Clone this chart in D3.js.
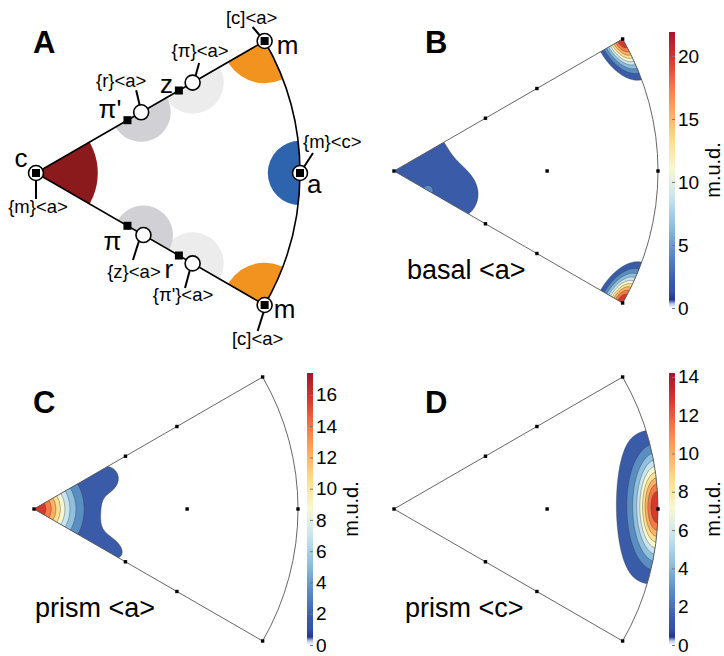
<!DOCTYPE html>
<html><head><meta charset="utf-8">
<script src="https://cdn.jsdelivr.net/npm/d3@7"></script>
<style>
body{margin:0;background:#fff}
svg{display:block}
text{font-family:"Liberation Sans",Arial,Helvetica,sans-serif;fill:#000}
</style>
</head><body>
<svg id="fig" width="724" height="656"></svg>
<script>
// ================= DATA =================
// Directions are given as (rho: fraction of sector radius from c, theta: degrees from the c–a axis, + = toward upper m)
const poleNames   = ["c", "a", "m", "m"];
const poleRho     = [0, 1, 1, 1];
const poleTheta   = [0, 0, 30, -30];

const planeNames  = ["π'", "z", "π", "r"];
const planeRho    = [0.40, 0.625, 0.40, 0.625];
const planeTheta  = [30, 30, -30, -30];

const slipLabels  = ["{r}<a>", "{π}<a>", "{z}<a>", "{π'}<a>"];
const slipRho     = [0.46, 0.685, 0.47, 0.685];
const slipTheta   = [30, 30, -30, -30];

const poleSlipLabels = ["{m}<a>", "{m}<c>", "[c]<a>", "[c]<a>"];

// Schematic activity zones in panel A: [rho, theta, angular radius (fraction of R), zone id]
const zonesA = [
  [0,     0,   0.234, "basal"],
  [1,     30,  0.160, "prismA"],
  [1,    -30,  0.160, "prismA"],
  [1,     0,   0.122, "prismC"],
  [0.685, 30,  0.118, "minor"],
  [0.685,-30,  0.118, "minor"],
  [0.46,  30,  0.112, "rhomb"],
  [0.47, -30,  0.112, "rhomb"]
];

// Reference markers in the density sectors
const markRho   = [0, 1, 1, 1, 0.58, 0.40, 0.625, 0.40, 0.625];
const markTheta = [0, 30, -30, 0, 0, 30, 30, -30, -30];

// Density components: [rho, theta, m.u.d., radial spread, tangential spread]
const peaksB = [
  [1.0,   30,   21.9, 0.045, 0.080],
  [1.0,  -30,   21.9, 0.045, 0.080],
  [0.0,    0,    3.1, 0.260, 0.260],
  [0.27, -21.5,  1.3, 0.070, 0.070],
  [0.148, -30,   3.0, 0.016, 0.016]
];
const peaksC = [
  [0.0,     0,   15.1, 0.0913, 0.0913],
  [0.0,     0,    2.3, 0.250,  0.250],
  [0.3124, 22.8,  1.0, 0.050,  0.050],
  [0.342, -27.7,  1.1, 0.070,  0.045]
];
const peaksD = [
  [1.0,   0.4,  13.6, 0.050, 0.130],
  [0.9,   0.5,   2.1, 0.060, 0.240]
];

const maxB = 21.9, maxC = 17.4, maxD = 14.2;
const ticksB = [0, 5, 10, 15, 20];
const ticksC = [0, 2, 4, 6, 8, 10, 12, 14, 16];
const ticksD = [0, 2, 4, 6, 8, 10, 12, 14];
const titles = ["basal <a>", "prism <a>", "prism <c>"];
const panelLetters = ["A", "B", "C", "D"];

// ================= STYLE / LAYOUT =================
const R = 264;
const apexA = {x:36,  y:173};
const apexB = {x:394, y:171};
const apexC = {x:34,  y:509};
const apexD = {x:394, y:509};
const zoneColor = {basal:"#8b1a1c", prismA:"#f3931f", prismC:"#2e63ad", rhomb:"#d0d0d5", minor:"#ececec"};
const cmapStops  = [0, 0.015, 0.03, 0.06, 0.1, 0.2, 0.3, 0.4, 0.5, 0.6, 0.7, 0.8, 0.9, 1.0];
const cmapColors = ["#ffffff","#b8cbe6","#24348c","#3353a3","#3a5ca8","#5a8ec2","#8fc0dd","#c8e4ee","#f6f8d2","#fee08f","#fdb062","#f57a47","#d63a2c","#a3162b"];
const cmap = d3.scaleLinear().domain(cmapStops).range(cmapColors).interpolate(d3.interpolateRgb).clamp(true);

const rScale = d3.scaleLinear().domain([0,1]).range([0,R]);
const rad = d => d*Math.PI/180;
function proj(apex, rho, theta){
  const r = rScale(rho);
  return [apex.x + r*Math.cos(rad(theta)), apex.y - r*Math.sin(rad(theta))];
}
function sectorPath(apex){
  const t = proj(apex,1,30), b = proj(apex,1,-30);
  return `M${apex.x},${apex.y}L${t[0]},${t[1]}A${R},${R} 0 0 1 ${b[0]},${b[1]}Z`;
}

const svg = d3.select("#fig");
const defs = svg.append("defs");

// ================= PANEL A =================
(function(){
  const g = svg.append("g");
  defs.append("clipPath").attr("id","clipA").append("path").attr("d", sectorPath(apexA));
  const zg = g.append("g").attr("clip-path","url(#clipA)");
  const order = ["basal","prismA","prismC","minor","rhomb"];
  const zs = zonesA.slice().sort((a,b)=>order.indexOf(a[3])-order.indexOf(b[3]));
  zg.selectAll("circle").data(zs).join("circle")
    .attr("cx", d=>proj(apexA,d[0],d[1])[0])
    .attr("cy", d=>proj(apexA,d[0],d[1])[1])
    .attr("r", d=>rScale(d[2]))
    .attr("fill", d=>zoneColor[d[3]]);
  g.append("path").attr("d", sectorPath(apexA)).attr("fill","none").attr("stroke","#000").attr("stroke-width",1.6);

  const leader = (p, o1, o2) => g.append("line")
      .attr("x1",p[0]+o1[0]).attr("y1",p[1]+o1[1]).attr("x2",p[0]+o2[0]).attr("y2",p[1]+o2[1])
      .attr("stroke","#000").attr("stroke-width",2);
  const txt = (x,y,s,size,anchor) => g.append("text").attr("x",x).attr("y",y).text(s)
      .attr("font-size",size).attr("text-anchor",anchor||"middle");

  const poleNameOff  = [[-15,-6],[7,20],[12,13],[9,13]];
  const poleSlipOff  = [[2,40],[3,-25],[-13,-17],[-7,40]];
  const poleSlipAnchor = ["middle","start","middle","middle"];
  const poleLeader   = [[[0,7],[0,26]],[[13,-20],[2,-3]],[[-12,-14],[-1,-1]],[[-1,7],[-7,26]]];
  poleNames.forEach((n,i)=>{
    const p = proj(apexA, poleRho[i], poleTheta[i]);
    leader(p, poleLeader[i][0], poleLeader[i][1]);
    txt(p[0]+poleNameOff[i][0], p[1]+poleNameOff[i][1], n, 26, i===0?"middle":"start");
    txt(p[0]+poleSlipOff[i][0], p[1]+poleSlipOff[i][1], poleSlipLabels[i], 18.5, poleSlipAnchor[i]);
  });
  const slipOff    = [[-20,-25],[7.5,-25.6],[-9.5,43],[-9.6,37.6]];
  const slipLeader = [[[-5,-22],[-1,-5]],[[6.5,-19.6],[2.5,-5]],[[-4.5,6],[-10.5,25]],[[-2.6,6],[-7.6,24.6]]];
  slipLabels.forEach((s,i)=>{
    const p = proj(apexA, slipRho[i], slipTheta[i]);
    leader(p, slipLeader[i][0], slipLeader[i][1]);
    txt(p[0]+slipOff[i][0], p[1]+slipOff[i][1], s, 18.5, "middle");
  });
  const planeOff = [[-17.5,-2],[-12.5,2.5],[-15,24],[-10,22.5]];
  planeNames.forEach((s,i)=>{
    const p = proj(apexA, planeRho[i], planeTheta[i]);
    txt(p[0]+planeOff[i][0], p[1]+planeOff[i][1], s, 26, "middle");
  });
  slipLabels.forEach((s,i)=>{
    const p = proj(apexA, slipRho[i], slipTheta[i]);
    g.append("circle").attr("cx",p[0]).attr("cy",p[1]).attr("r",7.5).attr("fill","#fff").attr("stroke","#000").attr("stroke-width",1.6);
  });
  poleNames.forEach((n,i)=>{
    const p = proj(apexA, poleRho[i], poleTheta[i]);
    g.append("circle").attr("cx",p[0]).attr("cy",p[1]).attr("r",7.5).attr("fill","#fff").attr("stroke","#000").attr("stroke-width",1.6);
    g.append("rect").attr("x",p[0]-4).attr("y",p[1]-4).attr("width",8).attr("height",8).attr("fill","#000");
  });
  planeNames.forEach((n,i)=>{
    const p = proj(apexA, planeRho[i], planeTheta[i]);
    g.append("rect").attr("x",p[0]-4).attr("y",p[1]-4).attr("width",8).attr("height",8).attr("fill","#000");
  });
  g.append("text").attr("x",33).attr("y",53).text(panelLetters[0]).attr("font-size",31).attr("font-weight","bold");
})();

// ================= DENSITY PANELS =================
function density(px, py, peaks){
  let f = 0;
  for (const [rho, th, A, sr, st] of peaks){
    const c = [rScale(rho)*Math.cos(rad(th)), -rScale(rho)*Math.sin(rad(th))];
    const er = [Math.cos(rad(th)), -Math.sin(rad(th))], et = [Math.sin(rad(th)), Math.cos(rad(th))];
    const dx = px-c[0], dy = py-c[1];
    const u = (dx*er[0]+dy*er[1])/(sr*R), v = (dx*et[0]+dy*et[1])/(st*R);
    f += A*Math.exp(-0.5*(u*u+v*v));
  }
  return f;
}

function densityPanel(id, apex, peaks, vmax, ticks, title, letter, letterPos, titlePos, bar){
  const g = svg.append("g");
  defs.append("clipPath").attr("id","clip"+id).append("path").attr("d", sectorPath(apex));
  const x0 = -3, half = Math.ceil(R*0.52), y0 = -half, nx = R+8, ny = 2*half+1;
  const values = new Float64Array(nx*ny);
  for (let j=0;j<ny;j++) for (let i=0;i<nx;i++) values[j*nx+i] = density(x0+i, y0+j, peaks);
  const levels = d3.range(1,10).map(k=>k/10*vmax);
  const contours = d3.contours().size([nx,ny]).thresholds(levels)(values);
  const path = d3.geoPath(d3.geoIdentity().translate([apex.x+x0-0.5, apex.y+y0-0.5]));
  const cg = g.append("g").attr("clip-path",`url(#clip${id})`);
  cg.selectAll("path").data(contours).join("path")
    .attr("d", path)
    .attr("fill", d=>cmap(d.value/vmax))
    .attr("stroke","#333").attr("stroke-width",0.5).attr("stroke-opacity",0.7);
  g.append("path").attr("d", sectorPath(apex)).attr("fill","none").attr("stroke","#555").attr("stroke-width",0.9);
  markRho.forEach((r,i)=>{
    const p = proj(apex, r, markTheta[i]);
    g.append("rect").attr("x",p[0]-1.7).attr("y",p[1]-1.7).attr("width",3.4).attr("height",3.4).attr("fill","#000");
  });
  g.append("text").attr("x",letterPos[0]).attr("y",letterPos[1]).text(letter).attr("font-size",31).attr("font-weight","bold");
  g.append("text").attr("x",titlePos[0]).attr("y",titlePos[1]).text(title).attr("font-size",27);

  const gid = "grad"+id;
  const grad = defs.append("linearGradient").attr("id",gid).attr("x1",0).attr("y1",1).attr("x2",0).attr("y2",0);
  d3.range(0,201).forEach(k=>grad.append("stop").attr("offset",k/200).attr("stop-color",cmap(k/200)));
  const y = d3.scaleLinear().domain([0,vmax]).range([bar.y1, bar.y0]);
  g.append("rect").attr("x",bar.x).attr("y",bar.y0).attr("width",6).attr("height",bar.y1-bar.y0).attr("fill",`url(#${gid})`);
  const axis = d3.axisRight(y).tickValues(ticks).tickSize(3).tickPadding(1);
  const ag = g.append("g").attr("transform",`translate(${bar.x+6},0)`).call(axis);
  ag.select(".domain").remove();
  ag.selectAll(".tick line").attr("stroke","#777").attr("x1",-3).attr("x2",0);
  ag.selectAll(".tick text").attr("font-size",19).attr("font-family",'"Liberation Sans",Arial,sans-serif').attr("fill","#000").attr("x",3);
  g.append("text").attr("transform",`translate(${bar.x+51},${(bar.y0+bar.y1)/2}) rotate(-90)`)
    .attr("text-anchor","middle").attr("font-size",20).text("m.u.d.");
}

densityPanel("B", apexB, peaksB, maxB, ticksB, titles[0], panelLetters[1], [425,53], [407,279], {x:669, y0:32, y1:308});
densityPanel("C", apexC, peaksC, maxC, ticksC, titles[1], panelLetters[2], [33,413], [35,617], {x:307, y0:373, y1:645});
densityPanel("D", apexD, peaksD, maxD, ticksD, titles[2], panelLetters[3], [425,413], [405,617], {x:669, y0:373, y1:645});
</script>
</body></html>
